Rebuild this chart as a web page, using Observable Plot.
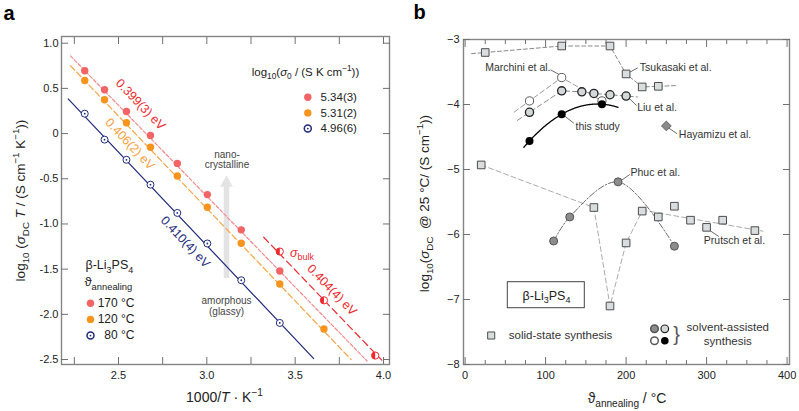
<!DOCTYPE html>
<html><head><meta charset="utf-8">
<script src="https://cdn.jsdelivr.net/npm/d3@7"></script>
<script src="https://cdn.jsdelivr.net/npm/@observablehq/plot@0.6"></script>
<style>
body{margin:0;background:#fff;}
#wrap{position:relative;width:799px;height:411px;overflow:hidden;}
#wrap svg{position:absolute;top:0;}
</style></head><body><div id="wrap"></div>
<script>
const FONT = '"Liberation Sans", Arial, Helvetica, sans-serif';

// ---------------- panel a data ----------------
const invT = [2.309, 2.421, 2.545, 2.681, 2.833, 3.003, 3.195, 3.413, 3.663, 3.953];
const logSigmaT170 = [0.695, 0.485, 0.245, -0.02, -0.33, -0.675, -1.065, -1.52];
const logSigmaT120 = [0.588, 0.375, 0.12, -0.152, -0.47, -0.815, -1.213, -1.665, -2.163];
const logSigmaT80 = [0.22, -0.067, -0.29, -0.565, -0.878, -1.216, -1.623, -2.095];
const bulkInvT = [3.413, 3.663, 3.953];
const logSigmaTBulk = [-1.305, -1.845, -2.456];
const annealLabels = ["170 °C", "120 °C", "80 °C"];
const logSigma0 = [5.34, 5.31, 4.96];
const logSigma0Labels = ["5.34(3)", "5.31(2)", "4.96(6)"];
const Ea = [0.399, 0.406, 0.410];
const EaLabels = ["0.399(3) eV", "0.406(2) eV", "0.410(4) eV"];
const fitStart = [2.228, 2.228, 2.215];
const fitEnd = [3.907, 3.817, 3.605];
const EaBulk = 0.404, EaBulkLabel = "0.404(4) eV";
const bulkFitRange = [3.322, 3.99];
const xTicksA = [2.5, 3.0, 3.5, 4.0];
const xMinorA = [2.25, 2.5, 2.75, 3.0, 3.25, 3.5, 3.75, 4.0];
const yTicksA = [-2.5, -2.0, -1.5, -1.0, -0.5, 0, 0.5, 1.0];

// ---------------- panel b data ----------------
const tsukasakiT = [25, 120, 180, 200, 220, 240];
const tsukasakiLog = [-3.20, -3.10, -3.10, -3.53, -3.73, -3.72];
const prutschT = [20, 160, 180, 200, 220, 240, 260, 280, 300, 320, 360];
const prutschLog = [-4.93, -5.585, -7.10, -6.13, -5.64, -5.73, -5.565, -5.78, -5.89, -5.78, -5.94];
const marchiniT = [80, 120, 170];
const marchiniLog = [-3.945, -3.585, -3.945];
const liuT = [80, 120, 145, 160, 180, 200];
const liuLog = [-4.12, -3.79, -3.805, -3.83, -3.85, -3.87];
const thisStudyT = [80, 120, 170];
const thisStudyLog = [-4.56, -4.15, -3.995];
const phucT = [110, 130, 190, 260];
const phucLog = [-6.10, -5.73, -5.19, -6.18];
const hayamizuT = [250];
const hayamizuLog = [-4.33];
const xTicksB = [0, 100, 200, 300, 400];
const xMinorB = [25, 50, 75, 125, 150, 175, 225, 250, 275, 325, 350, 375];
const yTicksB = [-8, -7, -6, -5, -4, -3];

// ---------------- helpers ----------------
const H = 411;
const zip = (xs, ys) => xs.map((x, i) => ({x, y: ys[i]})).filter(d => d.y !== undefined);
const lab = (pos, t, o = {}) => Plot.text([{...pos, t}], {x: "x", y: "y", text: "t", ...o});
const halfDisc = {draw(ctx, size) { const r = Math.sqrt(size / Math.PI); ctx.moveTo(0, -r); ctx.arc(0, 0, r, -Math.PI / 2, Math.PI / 2, true); ctx.closePath(); }};
const extend = (pts, dl, dr) => {
  const out = pts.slice();
  if (dl) { const [a, b] = pts; const s = (b.y - a.y) / (b.x - a.x); out.unshift({x: a.x - dl, y: a.y - s * dl}); }
  if (dr) { const a = pts[pts.length - 2], b = pts[pts.length - 1]; const s = (b.y - a.y) / (b.x - a.x); out.push({x: b.x + dr, y: b.y + s * dr}); }
  return out;
};

// ================= PANEL A =================
const A = {w: 400, ml: 61, mr: 11, mt: 36, mb: 47, xd: [2.1774, 4.034], yd: [-2.555, 1.074]};
const xa = d3.scaleLinear(A.xd, [A.ml, A.w - A.mr]);
const ya = d3.scaleLinear(A.yd, [H - A.mb, A.mt]);
const pa = (px, py) => ({x: xa.invert(px), y: ya.invert(py)});

const RED = "#f26466", ORANGE = "#f7941d", NAVY = "#1f2a7c", TRED = "#ec2a2f";
const fitColors = ["#f38a8c", "#f8a444", NAVY];
const fitDash = ["3.5,2", "6,3", null];
const textColors = [TRED, "#f8a040", NAVY];
const K = 8.617333e-5 * Math.LN10 * 1000;

const pts = [zip(invT, logSigmaT170), zip(invT, logSigmaT120), zip(invT, logSigmaT80)];
const bulkPts = zip(bulkInvT, logSigmaTBulk);
const fits = [0, 1, 2].map(i => [fitStart[i], fitEnd[i]].map(x => ({x, y: logSigma0[i] - Ea[i] / K * x})));
const bulkIntercept = d3.mean(bulkPts, d => d.y + EaBulk / K * d.x);
const bulkFit = bulkFitRange.map(x => ({x, y: bulkIntercept - EaBulk / K * x}));

const marksA = [
  // grey arrow
  Plot.ruleX([{x: xa.invert(226), y1: ya.invert(278), y2: ya.invert(186)}], {x: "x", y1: "y1", y2: "y2", stroke: "#e3e3e3", strokeWidth: 5.5}),
  Plot.dot([pa(226, 182.5)], {x: "x", y: "y", symbol: "triangle", r: 4.8, fill: "#e3e3e3"}),
  Plot.frame({stroke: "#858585", strokeWidth: 1.4}),
  Plot.axisX(xMinorA, {anchor: "bottom", tickSize: -7, fill: "none", stroke: "#707070", label: null}),
  Plot.axisX(xMinorA, {anchor: "top", tickSize: -7, fill: "none", stroke: "#707070", label: null}),
  Plot.axisX(xTicksA, {anchor: "bottom", tickSize: 0, tickPadding: 7, tickFormat: d => d.toFixed(1), label: null, fontSize: 11}),
  Plot.axisY(yTicksA, {anchor: "left", tickSize: -7, fill: "none", stroke: "#707070", label: null}),
  Plot.axisY(yTicksA, {anchor: "right", tickSize: -7, fill: "none", stroke: "#707070", label: null}),
  Plot.axisY(yTicksA, {anchor: "left", tickSize: 0, tickPadding: 3, tickFormat: d => d === 0 ? "0" : d.toFixed(1), label: null, fontSize: 11}),
  // fits
  ...fits.map((f, i) => Plot.line(f, {x: "x", y: "y", stroke: fitColors[i], strokeWidth: 1.2, strokeDasharray: fitDash[i]})),
  Plot.line(bulkFit, {x: "x", y: "y", stroke: TRED, strokeWidth: 1.2, strokeDasharray: "7,4"}),
  // points
  Plot.dot(pts[0], {x: "x", y: "y", r: 3.7, fill: RED}),
  Plot.dot(pts[1], {x: "x", y: "y", r: 3.7, fill: ORANGE}),
  Plot.dot(pts[2], {x: "x", y: "y", r: 3.5, fill: "white", stroke: NAVY, strokeWidth: 1}),
  Plot.dot(pts[2], {x: "x", y: "y", r: 0.9, fill: NAVY}),
  Plot.dot(bulkPts, {x: "x", y: "y", r: 3.6, fill: "white", stroke: TRED, strokeWidth: 1}),
  Plot.dot(bulkPts, {x: "x", y: "y", r: 3.6, symbol: halfDisc, fill: TRED}),
  // activation energy labels
  lab(pa(140, 104), EaLabels[0], {rotate: 46, fill: textColors[0], fontSize: 12.5}),
  lab(pa(129.5, 143.5), EaLabels[1], {rotate: 46.5, fill: textColors[1], fontSize: 12.5}),
  lab(pa(185, 241.5), EaLabels[2], {rotate: 46.5, fill: textColors[2], fontSize: 12.5}),
  lab(pa(331.5, 289.5), EaBulkLabel, {rotate: 46, fill: TRED, fontSize: 12.5}),
  lab(pa(289.5, 252), "~{σ}_{bulk}", {fill: TRED, fontSize: 12.5, textAnchor: "start"}),
  lab(pa(226.5, 159), "nano-\ncrystalline", {fontSize: 10, lineHeight: 1.05, fill: "#444"}),
  lab(pa(226, 305.5), "amorphous\n(glassy)", {fontSize: 10, lineHeight: 1.05, fill: "#444"}),
  // legend top right
  lab(pa(305, 71.5), "log_{10}(~{σ}_{0} / (S K cm^{−1}))", {fontSize: 11.5, fill: "#222"}),
  ...[0, 1, 2].map(i => lab(pa(320, 96.7 + 15.7 * i), logSigma0Labels[i], {textAnchor: "start", fontSize: 11.5, fill: "#222"})),
  Plot.dot([pa(307.3, 96.7)], {x: "x", y: "y", r: 3.7, fill: RED}),
  Plot.dot([pa(307.3, 112.4)], {x: "x", y: "y", r: 3.7, fill: ORANGE}),
  Plot.dot([pa(307.3, 128.1)], {x: "x", y: "y", r: 3.5, fill: "white", stroke: NAVY}),
  Plot.dot([pa(307.3, 128.1)], {x: "x", y: "y", r: 0.9, fill: NAVY}),
  // legend bottom left
  lab(pa(85, 264.5), "β-Li_{3}PS_{4}", {textAnchor: "start", fontSize: 12.5, fill: "#222"}),
  lab(pa(84, 281.5), "ϑ_{annealing}", {textAnchor: "start", fontSize: 13, fill: "#222"}),
  ...[0, 1, 2].map(i => lab(pa(134, 302.7 + 16.2 * i), annealLabels[i], {textAnchor: "end", fontSize: 12, fill: "#222"})),
  Plot.dot([pa(90, 302.7)], {x: "x", y: "y", r: 3.7, fill: RED}),
  Plot.dot([pa(90, 318.9)], {x: "x", y: "y", r: 3.7, fill: ORANGE}),
  Plot.dot([pa(90, 335.1)], {x: "x", y: "y", r: 3.5, fill: "white", stroke: NAVY}),
  Plot.dot([pa(90, 335.1)], {x: "x", y: "y", r: 0.9, fill: NAVY}),
  // axis titles and panel letter
  lab(pa(20, 200), "log_{10} (~{σ}_{DC} ~{T} / (S cm^{−1} K^{−1}))", {rotate: -90, fontSize: 13.5, fill: "#222"}),
  lab(pa(224, 397), "1000/~{T} · K^{−1}", {fontSize: 14, fill: "#222"}),
  lab(pa(8.5, 19.5), "a", {fontSize: 20, fontWeight: "bold", lineAnchor: "bottom", fill: "#000"})
];

const plotA = Plot.plot({
  width: A.w, height: H,
  marginLeft: A.ml, marginRight: A.mr, marginTop: A.mt, marginBottom: A.mb,
  x: {domain: A.xd, label: null},
  y: {domain: A.yd, label: null},
  style: {fontFamily: FONT, fontSize: "11px", color: "#222", background: "transparent"},
  marks: marksA
});

// ================= PANEL B =================
const B = {left: 400, w: 399, ml: 63, mr: 10, mt: 39, mb: 47, xd: [-2, 403], yd: [-8, -3]};
const xb = d3.scaleLinear(B.xd, [B.ml, B.w - B.mr]);
const yb = d3.scaleLinear(B.yd, [H - B.mb, B.mt]);
const pb = (px, py) => ({x: xb.invert(px - B.left), y: yb.invert(py)});
const lk = (p1, p2) => { const a = pb(...p1), b = pb(...p2); return {x1: a.x, y1: a.y, x2: b.x, y2: b.y}; };

const tsu = zip(tsukasakiT, tsukasakiLog);
const pru = zip(prutschT, prutschLog);
const mar = zip(marchiniT, marchiniLog);
const liu = zip(liuT, liuLog);
const stu = zip(thisStudyT, thisStudyLog);
const phu = zip(phucT, phucLog);
const hay = zip(hayamizuT, hayamizuLog);

const pruHead = pru.filter(d => d.x <= 220);
const pruTail = pru.filter(d => d.x >= 220);
const mx = d3.mean(pruTail, d => d.x), my = d3.mean(pruTail, d => d.y);
const slope = d3.sum(pruTail, d => (d.x - mx) * (d.y - my)) / d3.sum(pruTail, d => (d.x - mx) ** 2);
const pruTrend = [220, 370].map(x => ({x, y: my + slope * (x - mx)}));
const lag = (xs, ys) => x => xs.reduce((s, xi, i) => s + ys[i] * xs.reduce((p, xj, j) => j === i ? p : p * (x - xj) / (xi - xj), 1), 0);
const fStudy = lag(thisStudyT, thisStudyLog);
const studyCurve = d3.range(73, 190.5, 1).map(x => ({x, y: fStudy(x)}));

const SQ = {symbol: "square", r: 4.3, fill: "#d9dddd", stroke: "#4d4d4d", strokeWidth: 1};
const TXT = {textAnchor: "start", fontSize: 10.5, fill: "#333"};
const leaders = [
  lk([550, 69.3], [559.5, 74.5]),
  lk([629.3, 71.7], [637.3, 67.3]),
  lk([628.3, 97.5], [636, 105]),
  lk([563.5, 115], [573.3, 122.7]),
  lk([668.5, 127.7], [676.7, 133.3]),
  lk([620.7, 180], [629.3, 174]),
  lk([709.3, 230], [718.3, 236])
];

const marksB = [
  Plot.frame({stroke: "#858585", strokeWidth: 1.4}),
  Plot.axisX(xTicksB, {anchor: "bottom", tickSize: -7, fill: "none", stroke: "#707070", label: null}),
  Plot.axisX(xTicksB, {anchor: "top", tickSize: -7, fill: "none", stroke: "#707070", label: null}),
  Plot.axisX(xMinorB, {anchor: "bottom", tickSize: -4, fill: "none", stroke: "#707070", label: null}),
  Plot.axisX(xMinorB, {anchor: "top", tickSize: -4, fill: "none", stroke: "#707070", label: null}),
  Plot.axisX(xTicksB, {anchor: "bottom", tickSize: 0, tickPadding: 7, label: null, fontSize: 11}),
  Plot.axisY(yTicksB, {anchor: "left", tickSize: -7, fill: "none", stroke: "#707070", label: null}),
  Plot.axisY(yTicksB, {anchor: "right", tickSize: -7, fill: "none", stroke: "#707070", label: null}),
  Plot.axisY(yTicksB, {anchor: "left", tickSize: 0, tickPadding: 4, tickFormat: d => (d < 0 ? "\u2212" : "") + Math.abs(d), label: null, fontSize: 11}),
  // lines
  Plot.line(extend(tsu, 17, 22), {x: "x", y: "y", stroke: "#8a8a8a", strokeWidth: 1, strokeDasharray: "4,2.5"}),
  Plot.line(pruHead, {x: "x", y: "y", stroke: "#ababab", strokeWidth: 1, strokeDasharray: "5,3"}),
  Plot.line(pruTrend, {x: "x", y: "y", stroke: "#ababab", strokeWidth: 1, strokeDasharray: "5,3"}),
  Plot.line(extend(mar, 19, 0), {x: "x", y: "y", stroke: "#9a9a9a", strokeWidth: 1, strokeDasharray: "5,3"}),
  Plot.line(extend(liu, 15, 14), {x: "x", y: "y", stroke: "#8a8a8a", strokeWidth: 1, strokeDasharray: "5,3"}),
  Plot.line(phu, {x: "x", y: "y", curve: "catmull-rom", stroke: "#6a6a6a", strokeWidth: 1, strokeDasharray: "6,2,1.5,2"}),
  Plot.line(studyCurve, {x: "x", y: "y", stroke: "#000", strokeWidth: 1.3}),
  // leaders
  Plot.link(leaders, {x1: "x1", y1: "y1", x2: "x2", y2: "y2", stroke: "#444", strokeWidth: 0.8}),
  // markers
  Plot.dot(tsu, {x: "x", y: "y", ...SQ}),
  Plot.dot(pru, {x: "x", y: "y", ...SQ}),
  Plot.dot(mar, {x: "x", y: "y", r: 4.1, fill: "white", stroke: "#5a5a5a", strokeWidth: 1}),
  Plot.dot(liu, {x: "x", y: "y", r: 4.1, fill: "#d4d8d8", stroke: "#222", strokeWidth: 1.3}),
  Plot.dot(stu, {x: "x", y: "y", r: 4, fill: "#000"}),
  Plot.dot(phu, {x: "x", y: "y", r: 4, fill: "#8c8c8c", stroke: "#555", strokeWidth: 1}),
  Plot.dot(hay, {x: "x", y: "y", symbol: "diamond2", r: 4.4, fill: "#8a8a8a", stroke: "#666", strokeWidth: 1}),
  // labels
  lab(pb(550, 67), "Marchini et al.", {...TXT, textAnchor: "end"}),
  lab(pb(639.3, 67.3), "Tsukasaki et al.", TXT),
  lab(pb(636.7, 106.7), "Liu et al.", TXT),
  lab(pb(575, 125.7), "this study", TXT),
  lab(pb(678.3, 134.3), "Hayamizu et al.", TXT),
  lab(pb(630, 172.3), "Phuc et al.", TXT),
  lab(pb(703.3, 240.5), "Prutsch et al.", TXT),
  // box
  Plot.rect([lk([507.3, 281.7], [584.3, 307.7])], {x1: "x1", x2: "x2", y1: "y1", y2: "y2", fill: "white", stroke: "#444", strokeWidth: 1}),
  lab(pb(546, 295), "β-Li_{3}PS_{4}", {fontSize: 12.5, fill: "#222"}),
  // legend
  Plot.dot([pb(490.7, 335)], {x: "x", y: "y", ...SQ, r: 4}),
  lab(pb(508.3, 334.5), "solid-state synthesis", {textAnchor: "start", fontSize: 11.5, fill: "#333"}),
  Plot.dot([pb(654, 328.3)], {x: "x", y: "y", r: 3.8, fill: "#8c8c8c", stroke: "#555"}),
  Plot.dot([pb(664.3, 328.3)], {x: "x", y: "y", r: 3.8, fill: "#d4d8d8", stroke: "#222", strokeWidth: 1.2}),
  Plot.dot([pb(654, 340.3)], {x: "x", y: "y", r: 3.8, fill: "white", stroke: "#5a5a5a"}),
  Plot.dot([pb(664.3, 340.3)], {x: "x", y: "y", r: 3.8, fill: "#000"}),
  lab(pb(676, 334), "}", {fontSize: 20, fill: "#555", fontWeight: 300}),
  lab(pb(727.3, 327.3), "solvent-assisted", {fontSize: 11.5, fill: "#333"}),
  lab(pb(727.3, 340.7), "synthesis", {fontSize: 11.5, fill: "#333"}),
  // axis titles, panel letter
  lab(pb(424, 203), "log_{10}(~{σ}_{DC}  @ 25 °C/ (S cm^{−1}))", {rotate: -90, fontSize: 13.5, fill: "#222"}),
  lab(pb(626.5, 398), "ϑ_{annealing} / °C", {fontSize: 14, fill: "#222"}),
  lab(pb(419, 18.5), "b", {fontSize: 20, fontWeight: "bold", lineAnchor: "bottom", fill: "#000"})
];

const plotB = Plot.plot({
  width: B.w, height: H,
  marginLeft: B.ml, marginRight: B.mr, marginTop: B.mt, marginBottom: B.mb,
  x: {domain: B.xd, label: null},
  y: {domain: B.yd, label: null},
  style: {fontFamily: FONT, fontSize: "11px", color: "#222", background: "transparent"},
  marks: marksB
});

const wrap = document.getElementById("wrap");
plotA.style.left = "0px";
plotB.style.left = B.left + "px";
wrap.appendChild(plotA);
wrap.appendChild(plotB);

// rich text: _{sub}, ^{sup}, ~{italic}
function rich(root) {
  const NS = "http://www.w3.org/2000/svg";
  root.querySelectorAll("text").forEach(t => {
    const lines = t.querySelectorAll("tspan");
    const els = lines.length ? Array.from(lines) : [t];
    els.forEach(el => {
      const s = el.textContent;
      if (!/[_^~]\{/.test(s)) return;
      const fs = parseFloat(getComputedStyle(el).fontSize) || 11;
      while (el.firstChild) el.removeChild(el.firstChild);
      let cur = 0;
      const add = (txt, kind) => {
        if (!txt) return;
        const ts = document.createElementNS(NS, "tspan");
        let target = 0;
        if (kind === "_") { target = 0.3 * fs; ts.setAttribute("font-size", (0.72 * fs) + "px"); }
        if (kind === "^") { target = -0.4 * fs; ts.setAttribute("font-size", (0.72 * fs) + "px"); }
        if (kind === "~") ts.setAttribute("font-style", "italic");
        if (target !== cur) { ts.setAttribute("dy", (target - cur) + "px"); cur = target; }
        ts.textContent = txt;
        el.appendChild(ts);
      };
      const re = /([_^~])\{([^}]*)\}/g;
      let last = 0, m;
      while ((m = re.exec(s))) { add(s.slice(last, m.index), ""); add(m[2], m[1]); last = re.lastIndex; }
      add(s.slice(last), "");
    });
  });
}
rich(plotA);
rich(plotB);
</script></body></html>
